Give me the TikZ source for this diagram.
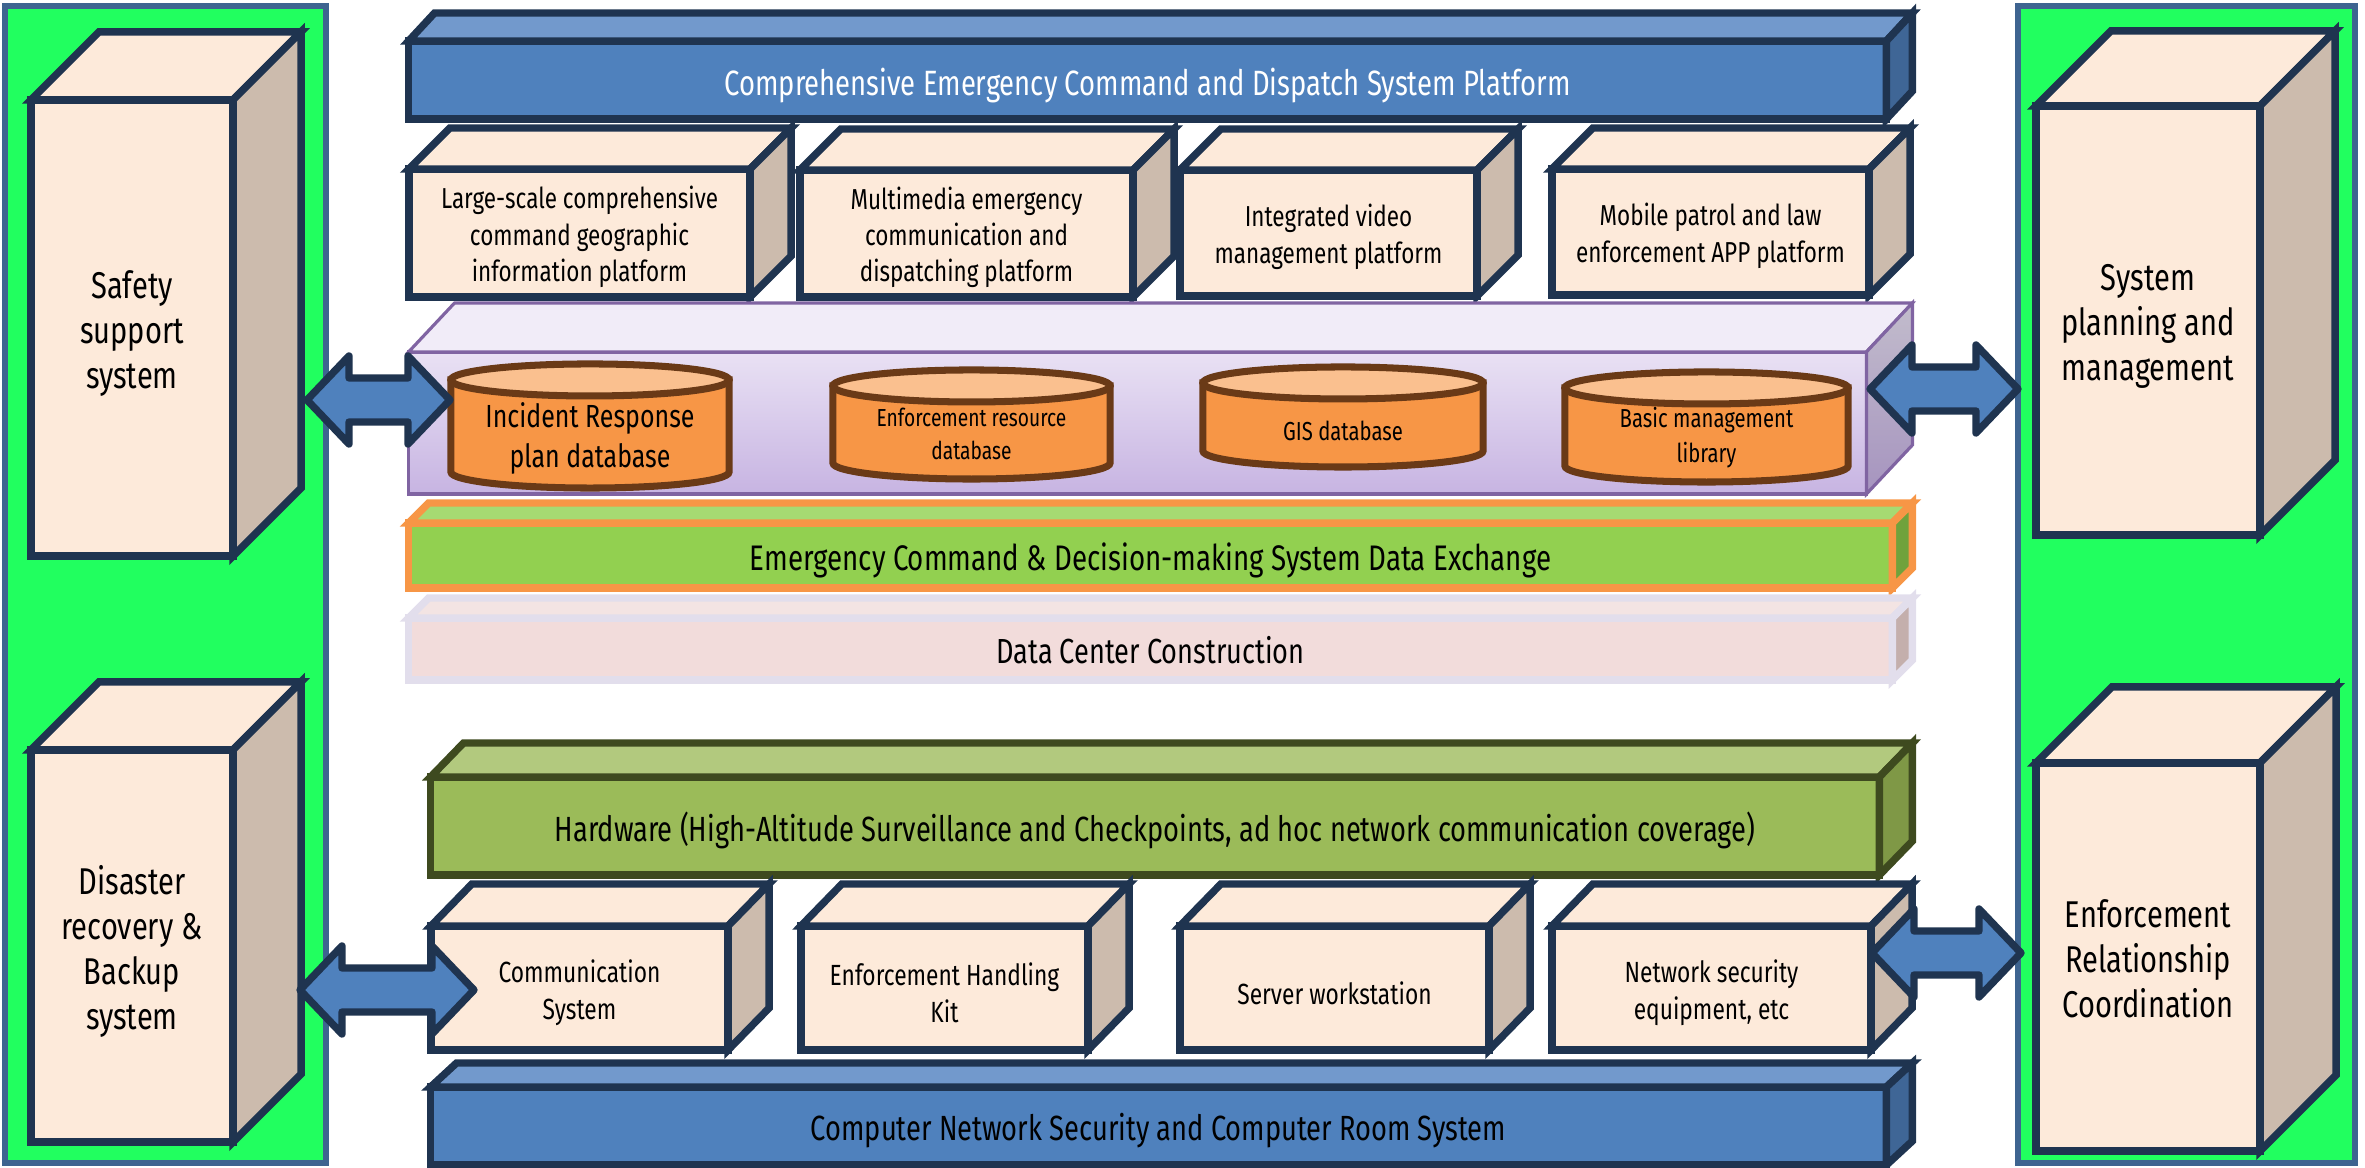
\documentclass[tikz,border=0pt]{standalone}
\usepackage{fontspec}
\setmainfont[FakeStretch=0.78]{Fira Sans}
\usetikzlibrary{calc}
\definecolor{navy}{HTML}{1F3450}
\definecolor{beige}{HTML}{FDEADA}
\definecolor{tan}{HTML}{CCBBAD}
\definecolor{pgreen}{HTML}{21FF5F}
\definecolor{pborder}{HTML}{3E6490}
\definecolor{bfront}{HTML}{4F81BD}
\definecolor{btop}{HTML}{7299CC}
\definecolor{bside}{HTML}{3F6696}
\definecolor{pstroke}{HTML}{8064A2}
\definecolor{cylfill}{HTML}{F79646}
\definecolor{cyltopc}{HTML}{FAC08F}
\definecolor{cylstroke}{HTML}{6A3A17}
\definecolor{exfront}{HTML}{92D050}
\definecolor{extop}{HTML}{A6DA72}
\definecolor{exside}{HTML}{70A23C}
\definecolor{exstroke}{HTML}{F79646}
\definecolor{dcfront}{HTML}{F2DCDB}
\definecolor{dctop}{HTML}{F3E4E3}
\definecolor{dcside}{HTML}{C4AFAC}
\definecolor{dcstroke}{HTML}{E2DEEC}
\definecolor{hwfront}{HTML}{9BBB59}
\definecolor{hwtop}{HTML}{B2C97E}
\definecolor{hwside}{HTML}{7F9846}
\definecolor{hwstroke}{HTML}{3E4A1F}
\definecolor{dbfronttop}{HTML}{E9E1F4}
\definecolor{dbfrontbot}{HTML}{C7B4E2}
\definecolor{dbtopc}{HTML}{F1ECF8}
\definecolor{dbsidetop}{HTML}{C2BCCC}
\definecolor{dbsidebot}{HTML}{A694BF}
\newcommand\cubfaces[5]{%
  \draw[#4] (#1.north west) -- ++(#2,-#3) -- ([shift={(#2,-#3)}]#1.north east) -- (#1.north east) -- cycle;
  \draw[#5] (#1.north east) -- ([shift={(#2,-#3)}]#1.north east) -- ([shift={(#2,-#3)}]#1.south east) -- (#1.south east) -- cycle;
}
% text node placed in a named frame node: #1 style, #2 frame name, #3 downward shift, #4 text
\newcommand\cubtext[4]{\node[txt,#1] (#2t) at ([yshift=-#3]#2.center) {#4};}
\newcommand\blockarrow[2]{%
  \draw[barrow] (#1) -- ++(42,-44) -- ++(0,22) -- ($(#2)+(-42,-22)$) -- ++(0,-22) -- (#2)
    -- ++(-42,44) -- ++(0,-22) -- ($(#1)+(42,22)$) -- ++(0,22) -- cycle;
}
\newcommand\cylbody[3]{% node, x radius, y radius
  \draw[cylside] (#1.north west) -- (#1.south west)
    arc[start angle=180,end angle=360,x radius=#2,y radius=#3] -- (#1.north east) -- cycle;
  \draw[cyltop] (#1.north) ellipse[x radius=#2,y radius=#3];
}
\begin{document}
\begin{tikzpicture}[x=0.01cm,y=-0.01cm,line join=miter,
  txt/.style={inner sep=0pt,align=center,text=black},
  box/.style={draw=navy,line width=2.1pt,fill=beige,inner sep=0pt,outer sep=0pt},
  topn/.style={draw=navy,line width=2.1pt,fill=beige},
  siden/.style={draw=navy,line width=2.1pt,fill=tan},
  sidetext/.style={font=\fontsize{10.6}{12.8}\selectfont},
  boxtext/.style={font=\fontsize{8.2}{10.3}\selectfont},
  bottext/.style={font=\fontsize{8.3}{10.6}\selectfont},
  panel/.style={draw=pborder,line width=1.7pt,fill=pgreen,inner sep=0pt,outer sep=0pt},
  bluebar/.style={draw=navy,line width=2.1pt,fill=bfront,inner sep=0pt,outer sep=0pt},
  bluetop/.style={draw=navy,line width=2.1pt,fill=btop},
  blueside/.style={draw=navy,line width=2.1pt,fill=bside},
  exbar/.style={draw=exstroke,line width=2.1pt,fill=exfront,inner sep=0pt,outer sep=0pt},
  extopn/.style={draw=exstroke,line width=2.1pt,fill=extop},
  exsiden/.style={draw=exstroke,line width=2.1pt,fill=exside},
  dcbar/.style={draw=dcstroke,line width=2.1pt,fill=dcfront,inner sep=0pt,outer sep=0pt},
  dctopn/.style={draw=dcstroke,line width=2.1pt,fill=dctop},
  dcsiden/.style={draw=dcstroke,line width=2.1pt,fill=dcside},
  hwbar/.style={draw=hwstroke,line width=2.1pt,fill=hwfront,inner sep=0pt,outer sep=0pt},
  hwtopn/.style={draw=hwstroke,line width=2.1pt,fill=hwtop},
  hwsiden/.style={draw=hwstroke,line width=2.1pt,fill=hwside},
  dbfront/.style={draw=pstroke,line width=0.9pt,top color=dbfronttop,bottom color=dbfrontbot,inner sep=0pt,outer sep=0pt},
  dbtop/.style={draw=pstroke,line width=0.9pt,fill=dbtopc},
  dbside/.style={draw=pstroke,line width=0.9pt,top color=dbsidetop,bottom color=dbsidebot},
  cylnode/.style={inner sep=0pt,outer sep=0pt},
  cylside/.style={draw=cylstroke,line width=2pt,fill=cylfill},
  cyltop/.style={draw=cylstroke,line width=2pt,fill=cyltopc},
  barrow/.style={draw=navy,line width=2.1pt,fill=bfront,line join=round},
]
\useasboundingbox (0,0) rectangle (2365,1168);

% side panels
\node[panel,minimum width=3.21cm,minimum height=11.57cm] (lp) at (165.5,584.5) {};
\node[panel,minimum width=3.37cm,minimum height=11.57cm] (rp) at (2186.5,584.5) {};

% side boxes
\node[box,minimum width=2.02cm,minimum height=4.56cm] (sb1) at (132,328) {};
\cubtext{sidetext}{sb1}{1.7pt}{Safety\\support\\system}
\cubfaces{sb1}{68}{68}{topn}{siden}
\node[box,minimum width=2.02cm,minimum height=3.92cm] (sb2) at (132,946) {};
\cubtext{sidetext}{sb2}{1.5pt}{Disaster\\recovery \&\\Backup\\system}
\cubfaces{sb2}{68}{68}{topn}{siden}
\node[box,minimum width=2.24cm,minimum height=4.29cm] (sb3) at (2148,320.5) {};
\cubtext{sidetext}{sb3}{1.7pt}{System\\planning and\\management}
\cubfaces{sb3}{75}{75}{topn}{siden}
\node[box,minimum width=2.24cm,minimum height=3.88cm] (sb4) at (2148,957) {};
\cubtext{sidetext}{sb4}{0.6pt}{Enforcement\\Relationship\\Coordination}
\cubfaces{sb4}{76}{76}{topn}{siden}

% top bar
\node[bluebar,minimum width=14.77cm,minimum height=0.78cm] (tbar) at (1147.5,80) {};
\cubtext{text=white,font=\fontsize{10}{12}\selectfont}{tbar}{1.5pt}{Comprehensive Emergency Command and Dispatch System Platform}
\cubfaces{tbar}{26}{28}{bluetop}{blueside}

% top boxes
\node[box,minimum width=3.41cm,minimum height=1.28cm] (tb1) at (579.5,233) {};
\cubtext{boxtext}{tb1}{1.1pt}{Large-scale comprehensive\\command geographic\\information platform}
\cubfaces{tb1}{41}{41}{topn}{siden}
\node[box,minimum width=3.33cm,minimum height=1.27cm] (tb2) at (966.5,233.5) {};
\cubtext{boxtext}{tb2}{1.1pt}{Multimedia emergency\\communication and\\dispatching platform}
\cubfaces{tb2}{41}{41}{topn}{siden}
\node[box,minimum width=2.97cm,minimum height=1.26cm] (tb3) at (1328.5,233) {};
\cubtext{boxtext}{tb3}{1.1pt}{Integrated video\\management platform}
\cubfaces{tb3}{41}{41}{topn}{siden}
\node[box,minimum width=3.17cm,minimum height=1.26cm] (tb4) at (1710.5,232) {};
\cubtext{boxtext}{tb4}{1.1pt}{Mobile patrol and law\\enforcement APP platform}
\cubfaces{tb4}{41}{41}{topn}{siden}

% database layer
\node[dbfront,minimum width=14.57cm,minimum height=1.42cm] (db) at (1137.5,423) {};
\cubfaces{db}{46}{49}{dbtop}{dbside}

\node[cylnode,minimum width=2.78cm,minimum height=0.92cm] (c1) at (590,426) {};
\cylbody{c1}{1.39cm}{0.16cm}
\node[txt,font=\fontsize{9.1}{11.4}\selectfont] (c1t) at (590,438) {Incident Response\\plan database};
\node[cylnode,minimum width=2.77cm,minimum height=0.77cm] (c2) at (971.5,424.5) {};
\cylbody{c2}{1.385cm}{0.16cm}
\node[txt,font=\fontsize{7}{9.2}\selectfont] (c2t) at (971.5,434) {Enforcement resource\\database};
\node[cylnode,minimum width=2.80cm,minimum height=0.68cm] (c3) at (1343,417) {};
\cylbody{c3}{1.40cm}{0.16cm}
\node[txt,font=\fontsize{7.4}{10}\selectfont] (c3t) at (1343,431) {GIS database};
\node[cylnode,minimum width=2.83cm,minimum height=0.78cm] (c4) at (1706.5,427) {};
\cylbody{c4}{1.415cm}{0.16cm}
\node[txt,font=\fontsize{7.4}{10}\selectfont] (c4t) at (1706.5,438) {Basic management\\library};

% exchange bar
\node[exbar,minimum width=14.83cm,minimum height=0.65cm] (ex) at (1150.5,555.5) {};
\cubtext{font=\fontsize{10.1}{11}\selectfont}{ex}{1.4pt}{Emergency Command \& Decision-making System Data Exchange}
\cubfaces{ex}{20}{20}{extopn}{exsiden}

% data center bar
\node[dcbar,minimum width=14.83cm,minimum height=0.62cm] (dc) at (1150.5,649) {};
\cubtext{font=\fontsize{9.9}{11}\selectfont}{dc}{0.4pt}{Data Center Construction}
\cubfaces{dc}{20}{20}{dctopn}{dcsiden}

% hardware bar
\node[hwbar,minimum width=14.48cm,minimum height=0.98cm] (hw) at (1155,826) {};
\cubtext{font=\fontsize{9.95}{12}\selectfont}{hw}{1.2pt}{Hardware (High-Altitude Surveillance and Checkpoints, ad hoc network communication coverage)}
\cubfaces{hw}{33}{34}{hwtopn}{hwsiden}

% bottom bar
\node[bluebar,minimum width=14.55cm,minimum height=0.78cm] (bbar) at (1158.5,1126) {};
\cubtext{font=\fontsize{9.95}{12}\selectfont}{bbar}{1.4pt}{Computer Network Security and Computer Room System}
\cubfaces{bbar}{26}{24}{bluetop}{blueside}

% bottom boxes
\node[box,minimum width=2.97cm,minimum height=1.24cm] (bb1) at (579.5,988) {};
\cubtext{bottext}{bb1}{1.4pt}{Communication\\System}
\cubfaces{bb1}{41}{42}{topn}{siden}
\node[box,minimum width=2.87cm,minimum height=1.24cm] (bb2) at (944.5,988) {};
\cubtext{bottext}{bb2}{1.4pt}{Enforcement Handling\\Kit}
\cubfaces{bb2}{41}{42}{topn}{siden}
\node[box,minimum width=3.09cm,minimum height=1.24cm] (bb3) at (1334.5,988) {};
\cubtext{bottext}{bb3}{1.4pt}{Server workstation}
\cubfaces{bb3}{41}{42}{topn}{siden}
\node[box,minimum width=3.19cm,minimum height=1.24cm] (bb4) at (1711.5,988) {};
\cubtext{bottext}{bb4}{1.4pt}{Network security\\equipment, etc}
\cubfaces{bb4}{41}{42}{topn}{siden}

% arrows
\coordinate (a1l) at (307,400); \coordinate (a1r) at (450,400);
\coordinate (a2l) at (300,990); \coordinate (a2r) at (474,990);
\coordinate (a3l) at (1870,389); \coordinate (a3r) at (2018,389);
\coordinate (a4l) at (1872,953); \coordinate (a4r) at (2021,953);
\blockarrow{a1l}{a1r}
\blockarrow{a2l}{a2r}
\blockarrow{a3l}{a3r}
\blockarrow{a4l}{a4r}
\end{tikzpicture}
\end{document}
